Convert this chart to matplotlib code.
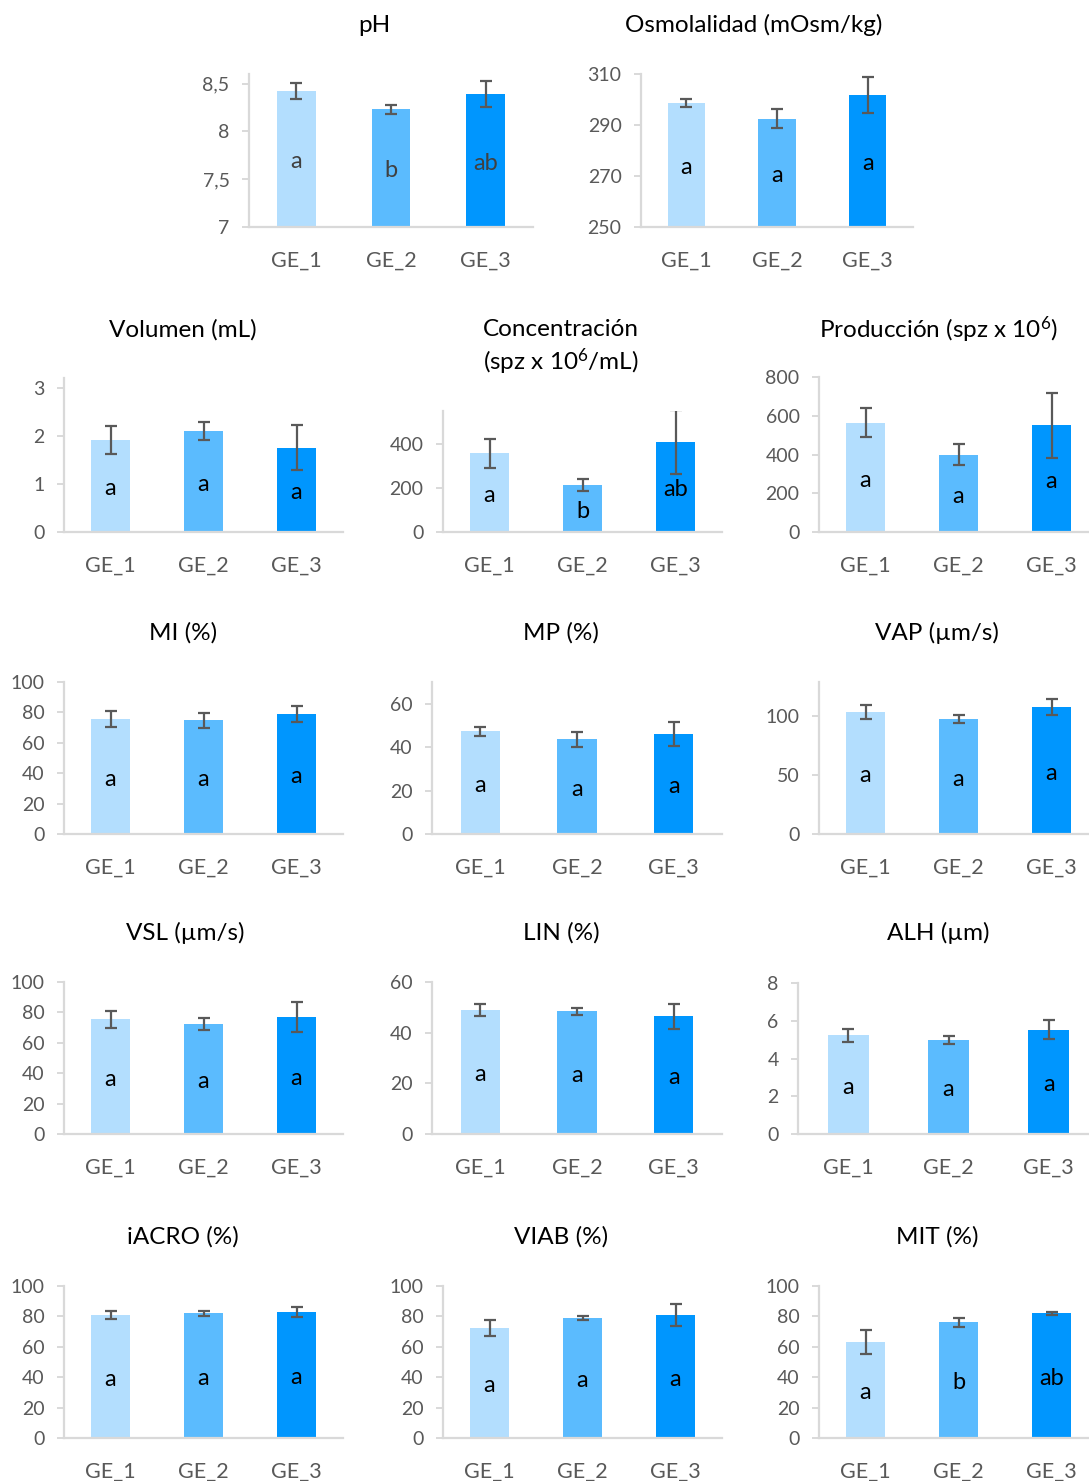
import matplotlib
matplotlib.use("Agg")
import matplotlib.pyplot as plt

plt.rcParams['font.family'] = ['Lato', 'DejaVu Sans']
plt.rcParams['mathtext.default'] = 'regular'

W, H = 1089, 1481
groups = ["GE_1", "GE_2", "GE_3"]
bar_colors = ["#B3DEFE", "#5BBBFE", "#0096FE"]

# ---- data (means, SD, significance letters) ----
ph_mean = [8.42, 8.23, 8.39]
ph_sd = [0.085, 0.045, 0.135]
ph_let = ["a", "b", "ab"]

osm_mean = [298.6, 292.5, 301.9]
osm_sd = [1.6, 3.6, 7.0]
osm_let = ["a", "a", "a"]

vol_mean = [1.91, 2.10, 1.75]
vol_sd = [0.29, 0.18, 0.47]
vol_let = ["a", "a", "a"]

conc_mean = [358, 213, 409]
conc_sd = [65, 28, 144]
conc_let = ["a", "b", "ab"]

prod_mean = [565, 399, 550]
prod_sd = [76, 54, 170]
prod_let = ["a", "a", "a"]

mi_mean = [75.5, 74.9, 78.8]
mi_sd = [5.2, 5.0, 5.3]
mi_let = ["a", "a", "a"]

mp_mean = [47.3, 43.6, 45.9]
mp_sd = [2.0, 3.4, 5.5]
mp_let = ["a", "a", "a"]

vap_mean = [103.8, 97.9, 107.8]
vap_sd = [6.0, 3.4, 7.0]
vap_let = ["a", "a", "a"]

vsl_mean = [75.5, 72.3, 76.9]
vsl_sd = [5.7, 3.8, 9.8]
vsl_let = ["a", "a", "a"]

lin_mean = [48.9, 48.5, 46.5]
lin_sd = [2.3, 1.4, 5.0]
lin_let = ["a", "a", "a"]

alh_mean = [5.22, 4.97, 5.53]
alh_sd = [0.33, 0.20, 0.50]
alh_let = ["a", "a", "a"]

iacro_mean = [80.8, 82.0, 82.9]
iacro_sd = [2.5, 1.5, 3.0]
iacro_let = ["a", "a", "a"]

viab_mean = [72.4, 79.0, 81.0]
viab_sd = [5.5, 1.5, 7.0]
viab_let = ["a", "a", "a"]

mit_mean = [63.2, 76.2, 82.1]
mit_sd = [7.9, 2.9, 0.9]
mit_let = ["a", "b", "ab"]

# ---- figure ----
fig = plt.figure(figsize=(W / 100, H / 100), dpi=100)

AXC = "#D9D9D9"
TXC = "#595959"


def panel(px_left, px_right, px_top, px_bottom, means, sds, letters,
          ylim, yticks, yticklabels, letter_color="black"):
    ax = fig.add_axes([px_left / W, 1 - px_bottom / H,
                       (px_right - px_left) / W, (px_bottom - px_top) / H])
    x = list(range(len(groups)))
    base = ylim[0]
    ax.bar(x, [m - base for m in means], bottom=base, width=0.41,
           color=bar_colors, zorder=2)
    ax.errorbar(x, means, yerr=sds, fmt="none", ecolor="#595959",
                elinewidth=1.6, capsize=4.5, capthick=1.6, zorder=3)
    for xi, m, l in zip(x, means, letters):
        ax.annotate(l, xy=(xi, (m + base) / 2), xytext=(0, -2),
                    textcoords="offset points", ha="center", va="center",
                    fontsize=17, color=letter_color, zorder=4)
    ax.set_xlim(-0.5, len(groups) - 0.5)
    ax.set_ylim(*ylim)
    ax.set_yticks(yticks)
    ax.set_yticklabels(yticklabels)
    ax.set_xticks(x)
    ax.set_xticklabels(groups)
    for s in ["top", "right"]:
        ax.spines[s].set_visible(False)
    for s in ["left", "bottom"]:
        ax.spines[s].set_color(AXC)
        ax.spines[s].set_linewidth(1.6)
    ax.tick_params(axis="y", direction="out", length=5, width=1.4,
                   color=AXC, labelcolor=TXC, labelsize=14, pad=9)
    ax.tick_params(axis="x", length=0, labelcolor=TXC, labelsize=15.5, pad=17)
    ax.patch.set_alpha(0)
    return ax


def title(cx, cy, s, size=17.5):
    fig.text(cx / W, 1 - cy / H, s, ha="center", va="center",
             fontsize=size, color="black")


# Row 1
panel(249, 533, 74, 227, ph_mean, ph_sd, ph_let, (7, 8.6),
      [7, 7.5, 8, 8.5], ["7", "7,5", "8", "8,5"], letter_color="#404040")
title(374, 25, "pH")
panel(641, 913, 74, 227, osm_mean, osm_sd, osm_let, (250, 310),
      [250, 270, 290, 310], ["250", "270", "290", "310"])
title(754, 25, "Osmolalidad (mOsm/kg)")

# Row 2
panel(64, 343, 378, 532, vol_mean, vol_sd, vol_let, (0, 3.2),
      [0, 1, 2, 3], ["0", "1", "2", "3"])
title(183, 330, "Volumen (mL)")
panel(443, 722, 411, 532, conc_mean, conc_sd, conc_let, (0, 550),
      [0, 200, 400], ["0", "200", "400"])
title(561, 330, "Concentración")
title(561, 362, "(spz x 10$^{6}$/mL)")
panel(819, 1098, 377, 532, prod_mean, prod_sd, prod_let, (0, 800),
      [0, 200, 400, 600, 800], ["0", "200", "400", "600", "800"])
title(938, 330, "Producción (spz x 10$^{6}$)")

# Row 3
panel(64, 343, 682, 834, mi_mean, mi_sd, mi_let, (0, 100),
      [0, 20, 40, 60, 80, 100], ["0", "20", "40", "60", "80", "100"])
title(183, 633, "MI (%)")
panel(432, 722, 682, 834, mp_mean, mp_sd, mp_let, (0, 70),
      [0, 20, 40, 60], ["0", "20", "40", "60"])
title(561, 633, "MP (%)")
panel(819, 1098, 682, 834, vap_mean, vap_sd, vap_let, (0, 129),
      [0, 50, 100], ["0", "50", "100"])
title(937, 633, "VAP (µm/s)")

# Row 4
panel(64, 343, 982, 1134, vsl_mean, vsl_sd, vsl_let, (0, 100),
      [0, 20, 40, 60, 80, 100], ["0", "20", "40", "60", "80", "100"])
title(185, 933, "VSL (µm/s)")
panel(432, 722, 982, 1134, lin_mean, lin_sd, lin_let, (0, 60),
      [0, 20, 40, 60], ["0", "20", "40", "60"])
title(561, 933, "LIN (%)")
panel(798, 1099, 983, 1134, alh_mean, alh_sd, alh_let, (0, 8),
      [0, 2, 4, 6, 8], ["0", "2", "4", "6", "8"])
title(938, 933, "ALH (µm)")

# Row 5
panel(64, 343, 1286, 1438, iacro_mean, iacro_sd, iacro_let, (0, 100),
      [0, 20, 40, 60, 80, 100], ["0", "20", "40", "60", "80", "100"])
title(183, 1237, "iACRO (%)")
panel(443, 722, 1286, 1438, viab_mean, viab_sd, viab_let, (0, 100),
      [0, 20, 40, 60, 80, 100], ["0", "20", "40", "60", "80", "100"])
title(561, 1237, "VIAB (%)")
panel(819, 1098, 1286, 1438, mit_mean, mit_sd, mit_let, (0, 100),
      [0, 20, 40, 60, 80, 100], ["0", "20", "40", "60", "80", "100"])
title(937, 1237, "MIT (%)")

fig.savefig("out.png", dpi=100, facecolor="white")
